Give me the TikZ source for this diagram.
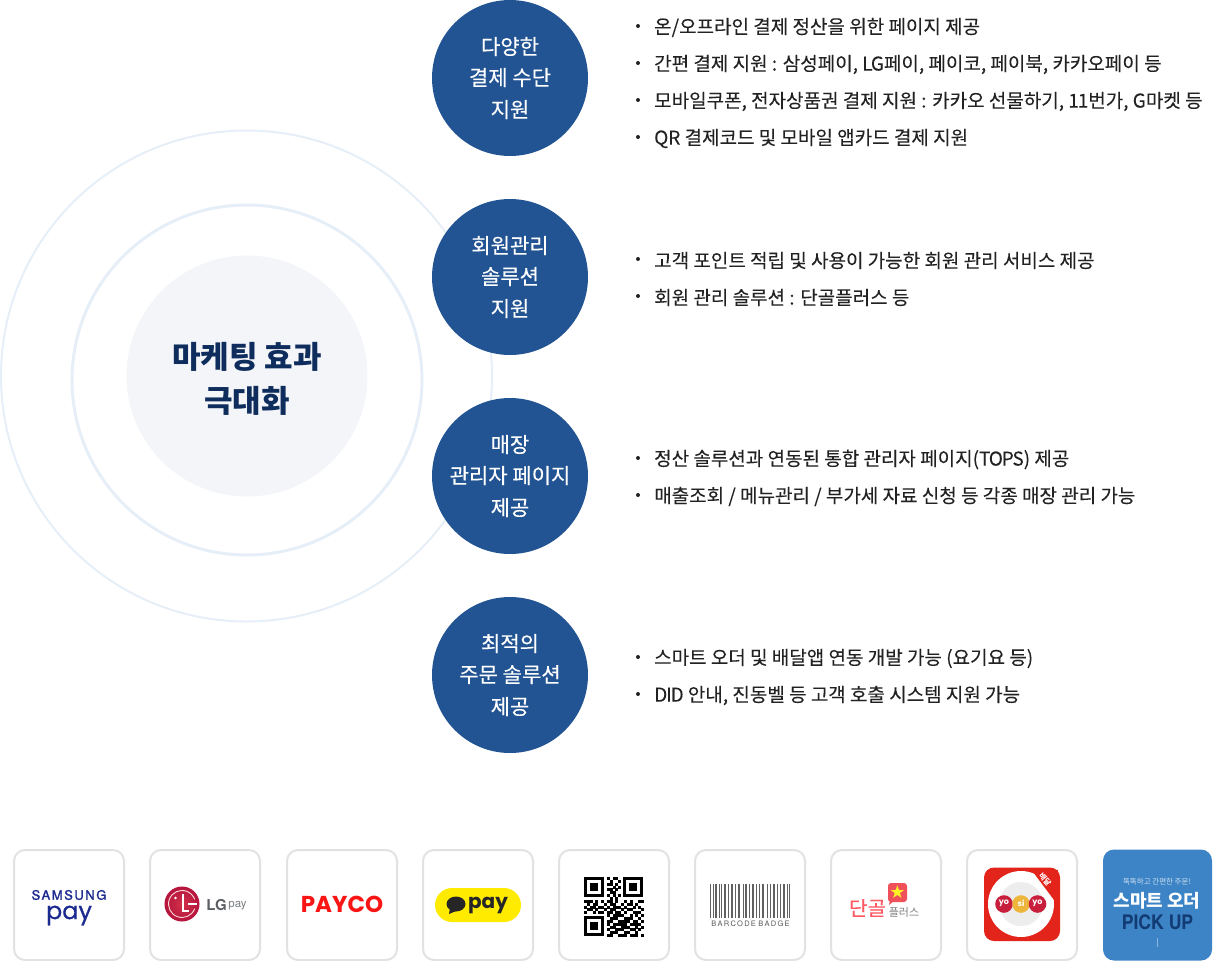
\documentclass[tikz,border=0pt]{standalone}
\usepackage{fontspec}
\setmainfont{Noto Sans CJK KR}
\newfontfamily\medfont[FakeBold=0.25]{Noto Sans CJK KR}
\newfontfamily\itemfont[FakeBold=0.08]{Noto Sans CJK KR}
\newfontfamily\il[FakeBold=0.08,LetterSpace=-6]{Noto Sans CJK KR}
\newfontfamily\latinpop{Poppins}
\newfontfamily\popmed[FakeBold=0.6]{Poppins}
\newfontfamily\latinheros{TeX Gyre Heros}
\newfontfamily\samfont[LetterSpace=12,FakeBold=1.6]{TeX Gyre Heros}
\newfontfamily\symfont{DejaVu Sans}
\usetikzlibrary{calc}
\definecolor{ringc}{HTML}{E6EEF7}
\definecolor{corec}{HTML}{F3F5F9}
\definecolor{navyc}{HTML}{0E2C5C}
\definecolor{bluec}{HTML}{225493}
\definecolor{txtc}{HTML}{222222}
\definecolor{cardc}{HTML}{E2E2E2}
\definecolor{smartc}{HTML}{3D84C6}
\definecolor{samc}{HTML}{1B2A8F}
\definecolor{lgc}{HTML}{B4143C}
\definecolor{lgtc}{HTML}{5A5F64}
\definecolor{paycoc}{HTML}{FA1414}
\definecolor{kakaoc}{HTML}{FFEB00}
\definecolor{dangc}{HTML}{FF5A64}
\definecolor{bubc}{HTML}{F0505A}
\definecolor{yogic}{HTML}{E2241B}
\definecolor{yobc}{HTML}{C8203C}
\definecolor{goldc}{HTML}{EDB53A}
\definecolor{pickc}{HTML}{123A73}
\tikzset{
  ring/.style={draw=ringc,fill=none},
  topic/.style={circle,fill=bluec,minimum size=156pt,inner sep=0pt,text=white,align=center,font=\fontsize{21}{32}\medfont},
  item/.style={anchor=west,inner sep=0pt,yshift=-1.5pt,text=txtc,font=\fontsize{19}{22}\itemfont},
  bul/.style={circle,fill=txtc,minimum size=4pt,inner sep=0pt},
  card/.style={draw=cardc,line width=2pt,fill=white,rounded corners=11pt},
  logo/.style={inner sep=0pt,anchor=center}
}
\newcommand{\rowitem}[3]{\node[bul] (b#1) at (638,#2) {};\node[item] (t#1) at (654,#2) {#3};}
\begin{document}
\begin{tikzpicture}[x=1pt,y=-1pt]
\useasboundingbox (0,0) rectangle (1213,961);
% rings
\draw[ring,line width=2pt] (246.5,376) circle (245.5);
\draw[ring,line width=3pt] (247,380) circle (175);
\fill[corec] (247,376) circle (120.5);
\node[logo,text=navyc,align=center,font=\fontsize{31}{44}\selectfont\bfseries] (core) at (247,379) {마케팅 효과\\극대화};
% topics
\node[topic] (c1) at (510,78) {\raisebox{-1pt}{다양한}\\결제 수단\\지원};
\node[topic] (c2) at (510,277) {\raisebox{-1pt}{회원관리}\\솔루션\\지원};
\node[topic] (c3) at (510,476) {\raisebox{-1pt}{매장}\\관리자 페이지\\제공};
\node[topic] (c4) at (510,675) {\raisebox{-1pt}{최적의}\\주문 솔루션\\제공};
% lists
\rowitem{a}{26}{온/오프라인 결제 정산을 위한 페이지 제공}
\rowitem{b}{63}{간편 결제 지원 : 삼성페이{\il,} {\il LG}페이{\il,} 페이코{\il,} 페이북{\il,} 카카오페이 등}
\rowitem{c}{100}{모바일쿠폰{\il,} 전자상품권 결제 지원 : 카카오 선물하기, {\il 11}번가, {\il G}마켓 등}
\rowitem{d}{137}{QR 결제코드 및 모바일 앱카드 결제 지원}
\rowitem{e}{259}{고객 포인트 적립 및 사용이 가능한 회원 관리 서비스 제공}
\rowitem{f}{296}{회원 관리 솔루션 : 단골플러스 등}
\rowitem{g}{458}{정산 솔루션과 연동된 통합 관리자 페이지({\il TOPS}) 제공}
\rowitem{h}{495}{매출조회 / 메뉴관리 / 부가세 자료 신청 등 각종 매장 관리 가능}
\rowitem{i}{657}{스마트 오더 및 배달앱 연동 개발 가능 (요기요 등)}
\rowitem{j}{694}{{\il DID} 안내, 진동벨 등 고객 호출 시스템 지원 가능}
% cards
\foreach \x in {14,150,287,423,559,695,831,967}
  \draw[card] (\x,850) rectangle ++(110,110);
\fill[smartc,rounded corners=11pt] (1103,849.5) rectangle (1212,960.5);
% samsung pay
\node[logo,text=samc,font=\fontsize{13}{13}\samfont] (sam) at (69,895) {SAMSUNG};
\node[logo,text=samc,font=\fontsize{24}{24}\popmed] (sampay) at (69,915.5) {pay};
% lg pay
\shade[inner color=lgc!70!red!85!white,outer color=lgc] (182,904) circle (17.5);
\draw[white!85!red,line width=.9pt] (194.7,908.6) arc (20:340:13.5);
\draw[white,line width=1.5pt] (183,894) -- (183,911) -- (189,911);
\fill[white] (175.5,898) circle (1.3);
\draw[white,line width=1.2pt] (197,904) -- (188,904);
\node[logo,text=lgtc,font=\fontsize{15}{15}\latinheros\bfseries] (lgt) at (216.5,905) {LG};
\node[logo,text=lgtc!80,font=\fontsize{11.5}{12}\latinheros] (lgp) at (237.5,906) {pay};
% payco
\node[logo,text=paycoc,font=\fontsize{23}{23}\latinpop\bfseries] (payco) at (342,904) {PAYCO};
% kakao pay
\fill[kakaoc,rounded corners=17pt] (435,888) rectangle (521,922);
\fill[black!85] (456,904) ellipse (9.5 and 7.5);
\fill[black!85] (450,908) -- (449,914) -- (456,911) -- cycle;
\node[logo,text=black!85,font=\fontsize{20}{20}\latinpop\bfseries] (kpay) at (488,905) {pay};
% qr
\foreach \px/\py in {584/877,623/877,584/916}{
  \fill[black] (\px,\py) rectangle ++(20,20);
  \fill[white] (\px+3,\py+3) rectangle ++(14,14);
  \fill[black] (\px+6,\py+6) rectangle ++(8,8);
}
\foreach \r/\c in {0/8,0/10,0/11,1/9,1/12,2/8,2/9,2/11,3/10,3/12,4/8,4/9,4/11,5/9,5/10,6/8,6/10,6/12,7/9,7/11,
 8/0,8/1,8/2,8/4,8/6,8/8,8/9,8/11,8/14,8/16,8/19,8/20,
 9/1,9/3,9/4,9/7,9/9,9/10,9/13,9/15,9/16,9/18,
 10/0,10/2,10/3,10/5,10/6,10/8,10/10,10/11,10/12,10/14,10/17,10/19,
 11/1,11/2,11/4,11/7,11/9,11/10,11/13,11/15,11/16,11/20,
 12/0,12/3,12/5,12/6,12/8,12/9,12/11,12/12,12/14,12/17,12/18,12/19,
 13/8,13/10,13/11,13/12,13/13,13/16,13/18,13/20,
 14/9,14/10,14/11,14/14,14/15,14/16,14/19,
 15/8,15/9,15/12,15/13,15/14,15/15,15/17,15/18,15/20,
 16/8,16/10,16/11,16/12,16/13,16/14,16/16,16/17,16/18,16/19,
 17/9,17/10,17/13,17/14,17/15,17/18,17/20,
 18/8,18/11,18/12,18/13,18/16,18/17,18/19,
 19/9,19/10,19/11,19/14,19/15,19/18,
 20/8,20/9,20/12,20/13,20/14,20/16,20/17,20/18,20/20}
  \fill[black] ({584+\c*2.86},{877+\r*2.86}) rectangle ++(2.95,2.95);
% barcode
\foreach \x/\w in {0/1.4,3/1,5/2,9/1,11/.8,14/2,18/1,21/1.6,25/1,28/2.4,33/1,35/1.6,39/1,42/2,46/1,49/1.2,52/2.4,57/1,60/.8,63/1.8,67/1,70/1,73/2.4,77/1,79/1.4}
  \fill[black!62] (710+\x,884) rectangle ++(\w,34);
\node[logo,text=black!65,font=\fontsize{7.5}{8}\latinheros] (bar) at (750.5,923.5) {B\,A\,R\,C\,O\,D\,E\,\,B\,A\,D\,G\,E};
% dangol plus
\node[logo,text=dangc,font=\fontsize{20}{20}\medfont] (dan) at (867.5,908) {단골};
\fill[bubc,rounded corners=3pt] (888,883) rectangle (907,902);
\fill[bubc] (890,900) -- (889,905) -- (894,901) -- cycle;
\node[logo,text=yellow!85!white,font=\fontsize{18}{18}\symfont] (star) at (897.5,892) {★};
\node[logo,text=gray,font=\fontsize{11}{11}\selectfont] (plus) at (904,912) {플러스};
% yogiyo
\fill[yogic,rounded corners=10pt] (984,867.5) rectangle (1060,941);
\fill[white] (1021,904) circle (33);
\fill[yogic] (1030,868) -- (1054,900) -- (1058,870) -- cycle;
\fill[black!7] (1021,904) circle (22);
\foreach \x/\cc/\tt in {1004/yobc/yo,1021/goldc/si,1037.5/yobc/yo}{
  \fill[\cc] (\x,904) circle (8.8);
  \node[logo,text=white,font=\fontsize{8}{8}\latinpop\bfseries] at (\x,903) {\tt};
}
\node[logo,text=white,rotate=-50,font=\fontsize{7.5}{8}\medfont] (bd) at (1045,879) {배달};
% smart order
\node[logo,text=white!75!smartc,font=\fontsize{7.5}{8}\selectfont] (s1) at (1157,882) {똑똑하고 간편한 주문!};
\node[logo,text=white,font=\fontsize{18}{20}\selectfont\bfseries] (s2) at (1157,901) {스마트 오더};
\node[logo,text=pickc,font=\fontsize{20}{22}\latinheros\bfseries] (s3) at (1157.5,922) {\scalebox{.88}[1]{PICK UP}};
\draw[white!40!smartc,line width=.6pt] (1157.5,938) -- (1157.5,947);
\end{tikzpicture}
\end{document}
